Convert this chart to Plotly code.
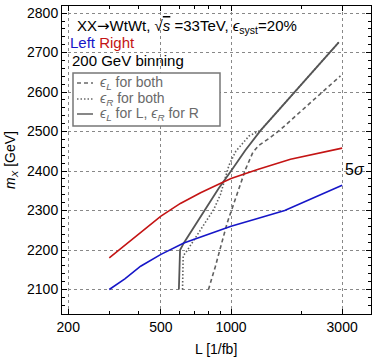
import numpy as np
import plotly.graph_objects as go

# Data
left_L = [300, 350, 409, 500, 627, 800, 1000, 1300, 1700, 3000]
left_m = [2100, 2127, 2159, 2189, 2218, 2240, 2260, 2280, 2300, 2364]

right_L = [300, 409, 500, 606, 740, 903, 1000, 1300, 1800, 3000]
right_m = [2180, 2245, 2286, 2318, 2345, 2369, 2381, 2404, 2430, 2458]

solid_L = [597, 604, 627, 700, 775, 884, 1000, 1150, 1340, 1630, 2900]
solid_m = [2100, 2200, 2218, 2262, 2303, 2356, 2400, 2452, 2503, 2560, 2726]

dotted_L = [619, 623, 650, 726, 843, 900, 940, 980, 1048, 1195, 1340, 1630, 2900]
dotted_m = [2100, 2185, 2200, 2243, 2303, 2340, 2380, 2415, 2450, 2489, 2503, 2560, 2726]

dashed_L = [800, 857, 963, 1050, 1155, 1240, 1316, 1460, 1630, 2950]
dashed_m = [2100, 2159, 2269, 2335, 2405, 2447, 2465, 2483, 2505, 2641]

x_major = [200, 500, 1000, 3000]
x_minor = [300, 400, 600, 700, 800, 900, 2000]
y_major = [2100, 2200, 2300, 2400, 2500, 2600, 2700, 2800]

BLUE = "#1616c8"
RED = "#c41414"
GRAY = "#555555"
FONT = "Liberation Sans"

fig = go.Figure()
fig.add_trace(go.Scatter(x=dashed_L, y=dashed_m, mode="lines",
                         line=dict(color="#606060", width=1.6, dash="4px,3px")))
fig.add_trace(go.Scatter(x=dotted_L, y=dotted_m, mode="lines",
                         line=dict(color="#606060", width=1.6, dash="1.5px,2px")))
fig.add_trace(go.Scatter(x=solid_L, y=solid_m, mode="lines",
                         line=dict(color=GRAY, width=1.8)))
fig.add_trace(go.Scatter(x=left_L, y=left_m, mode="lines",
                         line=dict(color=BLUE, width=1.6)))
fig.add_trace(go.Scatter(x=right_L, y=right_m, mode="lines",
                         line=dict(color=RED, width=1.6)))

fig.update_layout(
    width=372, height=357,
    margin=dict(l=62, r=1, t=6, b=43),
    paper_bgcolor="white", plot_bgcolor="white",
    showlegend=False,
    font=dict(family=FONT, size=14, color="black"),
)
fig.update_xaxes(
    type="log", range=[np.log10(188), np.log10(3990)],
    tickmode="array", tickvals=x_major, ticktext=[str(v) for v in x_major],
    ticks="inside", ticklen=5, tickcolor="black", tickwidth=1,
    showline=True, linecolor="black", linewidth=1, mirror="ticks",
    showgrid=True, gridcolor="#888888", griddash="dot", gridwidth=1,
    zeroline=False,
    minor=dict(tickmode="array", tickvals=x_minor, ticks="inside", ticklen=3,
               tickcolor="black", showgrid=False),
)
fig.update_yaxes(
    range=[2038, 2818],
    tickmode="array", tickvals=y_major,
    ticks="inside", ticklen=5, tickcolor="black", tickwidth=1,
    showline=True, linecolor="black", linewidth=1, mirror="ticks",
    showgrid=True, gridcolor="#888888", griddash="dot", gridwidth=1,
    zeroline=False,
    minor=dict(dtick=20, tick0=2000, ticks="inside", ticklen=3,
               tickcolor="black", showgrid=False),
    title=dict(text="<i>m</i><sub><i>X</i></sub> [GeV]", font=dict(size=14), standoff=8),
)

def px2x(px):
    return (px - 62) / 309.0

def py2y(py):
    return (314 - py) / 308.0

ARROW = "<span style='font-family:DejaVu Sans'>→</span>"
ann = [
    dict(x=px2x(76), y=py2y(26),
         text=f"XX{ARROW}WtWt, √<span style='text-decoration:overline'><i>s</i></span> =33TeV, <i>ϵ</i><sub>syst</sub>=20%",
         font=dict(size=15)),
    dict(x=px2x(69), y=py2y(42),
         text=f"<span style='color:{BLUE}'>Left</span> <span style='color:{RED}'>Right</span>",
         font=dict(size=15)),
    dict(x=px2x(71), y=py2y(60), text="200 GeV binning", font=dict(size=15)),
    dict(x=px2x(99), y=py2y(83), text="<i>ϵ</i><sub><i>L</i></sub> for both",
         font=dict(size=14, color="#6a6a6a")),
    dict(x=px2x(99), y=py2y(99), text="<i>ϵ</i><sub><i>R</i></sub> for both",
         font=dict(size=14, color="#6a6a6a")),
    dict(x=px2x(99), y=py2y(114),
         text="<i>ϵ</i><sub><i>L</i></sub> for L, <i>ϵ</i><sub><i>R</i></sub> for R",
         font=dict(size=14, color="#6a6a6a")),
    dict(x=px2x(344), y=py2y(169), text="5<i>σ</i>", font=dict(size=16)),
]
for a in ann:
    fig.add_annotation(xref="paper", yref="paper", xanchor="left", yanchor="middle",
                       align="left", showarrow=False, borderpad=0, **a)

# x-axis title
fig.add_annotation(xref="paper", yref="paper", x=px2x(216), y=py2y(349),
                   xanchor="center", yanchor="middle", showarrow=False,
                   text="L [1/fb]", font=dict(size=14))

# legend box and samples
fig.add_shape(type="rect", xref="paper", yref="paper",
              x0=px2x(73), x1=px2x(220), y0=py2y(126), y1=py2y(73),
              line=dict(color="#777777", width=1.5), fillcolor="white", layer="above")
for py, dash in [(83, "4px,3px"), (99, "1.5px,2px"), (114, "solid")]:
    fig.add_shape(type="line", xref="paper", yref="paper",
                  x0=px2x(77), x1=px2x(93), y0=py2y(py), y1=py2y(py),
                  line=dict(color="#6a6a6a", width=1.6, dash=dash))

fig.write_html("out.html", config={"displayModeBar": False},
               post_script="document.body.style.margin='0';document.body.style.padding='0';")
